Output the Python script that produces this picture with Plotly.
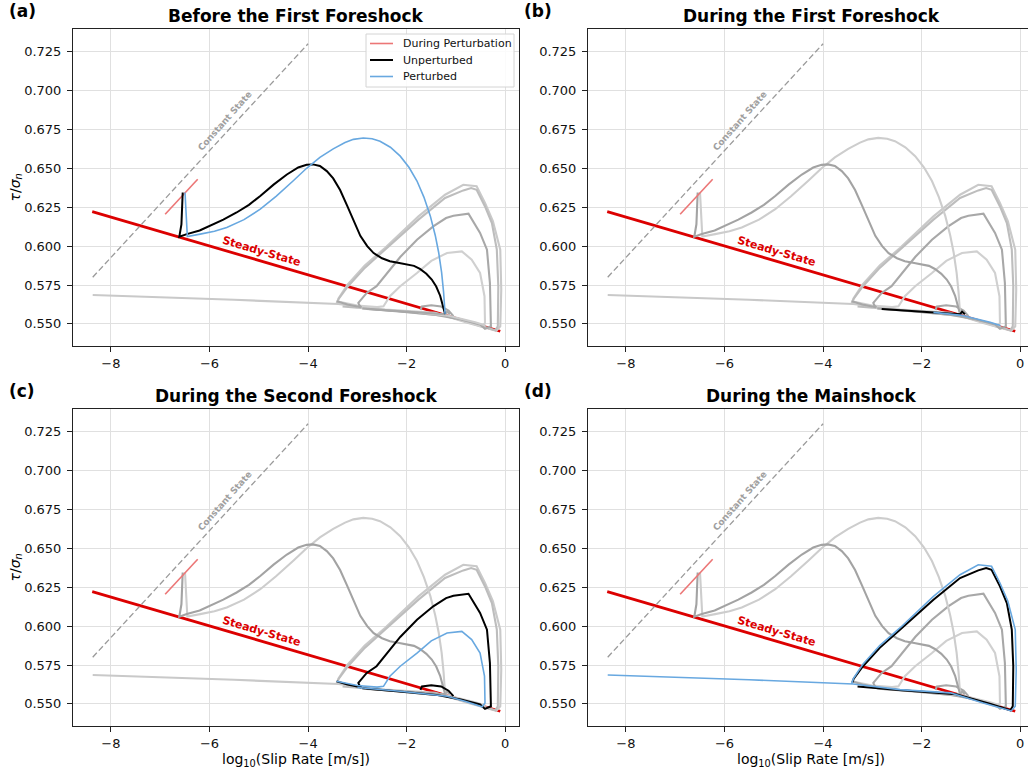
import plotly.graph_objects as go

W, H = 1028, 774

# ---------------- data ----------------
steady_x = [-8.38, -0.10]
steady_y = [0.6222, 0.5453]

const_x = [-8.37, -4.00]
const_y = [0.580, 0.730]

pert_x = [-6.90, -6.24]
pert_y = [0.6205, 0.6430]

# First foreshock, unperturbed (approach)
fs1_u_x = [-6.544, -6.55, -6.57, -6.613, -6.46, -6.20, -5.99, -5.72, -5.45, -5.20, -4.97, -4.70,
           -4.43, -4.20, -4.03, -3.90, -3.76, -3.62, -3.49, -3.35, -3.21, -3.07, -2.94, -2.80,
           -2.67, -2.50, -2.34, -2.15, -2.00, -1.85, -1.73, -1.60, -1.49, -1.40, -1.32, -1.26, -1.22]
fs1_u_y = [0.6344, 0.6250, 0.6140, 0.6060, 0.6077, 0.6100, 0.6130, 0.6170, 0.6216, 0.6265, 0.6322, 0.6395,
           0.6460, 0.6505, 0.6522, 0.6525, 0.6515, 0.6482, 0.6435, 0.6360, 0.6262, 0.6160, 0.6066, 0.6000,
           0.5955, 0.5922, 0.5903, 0.5891, 0.5884, 0.5873, 0.5853, 0.5822, 0.5785, 0.5740, 0.5681, 0.5620, 0.5564]

# First foreshock, perturbed (approach)
fs1_p_x = [-6.497, -6.48, -6.46, -6.45, -6.19, -5.90, -5.65, -5.30, -4.97, -4.65, -4.30, -4.03,
           -3.76, -3.49, -3.25, -3.08, -2.88, -2.70, -2.54, -2.33, -2.13, -1.95, -1.79, -1.65,
           -1.52, -1.42, -1.35, -1.29, -1.25, -1.22]
fs1_p_y = [0.6344, 0.6220, 0.6120, 0.6062, 0.6077, 0.6095, 0.6120, 0.6170, 0.6237, 0.6320, 0.6420, 0.6500,
           0.6570, 0.6625, 0.6665, 0.6686, 0.6695, 0.6690, 0.6674, 0.6635, 0.6578, 0.6505, 0.6418, 0.6315,
           0.6194, 0.6070, 0.5959, 0.5830, 0.5703, 0.5564]

# First foreshock, during the event
fs1_du_x = [-2.81, -2.40, -1.76, -1.22, -1.18, -1.12]
fs1_du_y = [0.5596, 0.5587, 0.5573, 0.5562, 0.5578, 0.5562]
fs1_dp_x = [-1.76, -1.19, -0.61, -0.40]
fs1_dp_y = [0.5574, 0.5555, 0.5511, 0.5490]

# Second foreshock, unperturbed (main loop, then small bump)
fs2_u_x = [-3.42, -3.20, -3.00, -2.92, -2.96, -2.98, -2.81, -2.61, -2.13, -1.79, -1.46, -1.20, -1.05,
           -0.745, -0.51, -0.37, -0.31, -0.29, -0.41, -0.51, -0.90, -1.40, -2.10, -2.90,
           None, -1.72, -1.69, -1.50, -1.30, -1.15, -1.05]
fs2_u_y = [0.5645, 0.5625, 0.5612, 0.5606, 0.5620, 0.5635, 0.5699, 0.5742, 0.5930, 0.6041, 0.6127, 0.6180, 0.6195,
           0.6208, 0.6085, 0.5977, 0.5763, 0.5485, 0.5468, 0.5496, 0.5528, 0.5558, 0.5578, 0.5600,
           None, 0.5590, 0.5612, 0.5620, 0.5612, 0.5585, 0.5550]

# Second foreshock, perturbed
fs2_p_x = [-3.42, -3.00, -2.60, -2.47, -2.34, -2.13, -1.79, -1.50, -1.18, -0.88, -0.68, -0.51,
           -0.42, -0.41, -0.47, -0.80, -1.18, -2.13, -3.00]
fs2_p_y = [0.5645, 0.5618, 0.5608, 0.5613, 0.5678, 0.5742, 0.5827, 0.5905, 0.5956, 0.5966, 0.5913, 0.5827,
           0.5678, 0.5506, 0.5481, 0.5515, 0.5549, 0.5581, 0.5605]

# Mainshock, unperturbed
ms_u_x = [-3.40, -3.38, -3.19, -2.85, -2.44, -2.10, -1.76, -1.22, -0.85, -0.69, -0.58, -0.41,
          -0.27, -0.17, -0.14, -0.15, -0.20, -0.60, -1.30, -2.40, -3.30]
ms_u_y = [0.5640, 0.5660, 0.5742, 0.5860, 0.5977, 0.6075, 0.6170, 0.6309, 0.6358, 0.6373, 0.6362, 0.6255,
          0.6148, 0.5977, 0.5742, 0.5485, 0.5459, 0.5500, 0.5562, 0.5588, 0.5612]

# Mainshock, perturbed (incl. post-seismic deceleration branch)
ms_p_x = [-3.42, -3.38, -3.20, -2.85, -2.44, -2.10, -1.76, -1.22, -0.85, -0.58, -0.41, -0.25,
          -0.10, -0.08, -0.10, -0.18, -0.75, -1.42, -2.44, -3.39, -5.50, -8.37]
ms_p_y = [0.5632, 0.5665, 0.5752, 0.5875, 0.5988, 0.6090, 0.6191, 0.6330, 0.6394, 0.6384, 0.6277, 0.6160,
          0.5977, 0.5721, 0.5485, 0.5455, 0.5506, 0.5571, 0.5592, 0.5628, 0.5655, 0.5686]

x_ticks = [-8, -6, -4, -2, 0]
x_tick_labels = ["\u22128", "\u22126", "\u22124", "\u22122", "0"]
y_ticks = [0.550, 0.575, 0.600, 0.625, 0.650, 0.675, 0.700, 0.725]
y_tick_labels = ["0.550", "0.575", "0.600", "0.625", "0.650", "0.675", "0.700", "0.725"]

panel_titles = ["Before the First Foreshock", "During the First Foreshock",
                "During the Second Foreshock", "During the Mainshock"]
panel_letters = ["(a)", "(b)", "(c)", "(d)"]
legend_names = ["During Perturbation", "Unperturbed", "Perturbed"]

# ---------------- styling ----------------
RED = "#dc0000"
PINK = "#ec7676"
BLUE = "#68a8e0"
FONT = "DejaVu Sans"

series = {
    "ms_p": (ms_p_x, ms_p_y, "#c9c9c9"),
    "ms_u": (ms_u_x, ms_u_y, "#bdbdbd"),
    "fs2_p": (fs2_p_x, fs2_p_y, "#d0d0d0"),
    "fs2_u": (fs2_u_x, fs2_u_y, "#a8a8a8"),
    "fs1_dp": (fs1_dp_x, fs1_dp_y, "#cccccc"),
    "fs1_du": (fs1_du_x, fs1_du_y, "#a8a8a8"),
    "fs1_p": (fs1_p_x, fs1_p_y, "#cdcdcd"),
    "fs1_u": (fs1_u_x, fs1_u_y, "#a3a3a3"),
}
highlights = [("fs1_u", "fs1_p"), ("fs1_du", "fs1_dp"), ("fs2_u", "fs2_p"), ("ms_u", "ms_p")]

# pixel layout of the four axes boxes: left, right, top, bottom
boxes = [
    (73, 519, 29, 346),
    (588, 1028, 29, 346),
    (73, 519, 409, 726),
    (588, 1028, 409, 726),
]
full_right = [519, 1034, 519, 1034]   # right panels are clipped by the image edge
x_ranges = [[-8.77, 0.28], [-8.77, 0.159], [-8.77, 0.28], [-8.77, 0.159]]
y_range = [0.5358, 0.7395]

fig = go.Figure()
layout_axes = {}
annotations = []
shapes = []

for i in range(4):
    n = "" if i == 0 else str(i + 1)
    xa, ya = "x" + n, "y" + n
    L, R, T, B = boxes[i]
    layout_axes["xaxis" + n] = dict(
        domain=[L / W, R / W], range=x_ranges[i], anchor=ya,
        tickvals=x_ticks, ticktext=x_tick_labels, showgrid=True, gridcolor="#e0e0e0", gridwidth=1,
        showline=True, linecolor="#222", linewidth=1, mirror=True, ticks="outside", ticklen=5,
        tickcolor="#222", tickfont=dict(size=13, family=FONT, color="#111"), zeroline=False,
        showticklabels=True,
    )
    layout_axes["yaxis" + n] = dict(
        domain=[1 - B / H, 1 - T / H], range=y_range, anchor=xa,
        tickvals=y_ticks, ticktext=y_tick_labels, showgrid=True, gridcolor="#e0e0e0", gridwidth=1,
        showline=True, linecolor="#222", linewidth=1, mirror=(i % 2 == 0), ticks="outside", ticklen=5,
        tickcolor="#222", tickfont=dict(size=13, family=FONT, color="#111"), zeroline=False,
        ticklabelstandoff=3,
    )

    # steady-state line and constant-state line
    fig.add_trace(go.Scatter(x=steady_x, y=steady_y, mode="lines", xaxis=xa, yaxis=ya,
                             line=dict(color=RED, width=2.8), showlegend=False, hoverinfo="skip"))
    fig.add_trace(go.Scatter(x=const_x, y=const_y, mode="lines", xaxis=xa, yaxis=ya,
                             line=dict(color="#9a9a9a", width=1.3, dash="6px,3px"), showlegend=False,
                             hoverinfo="skip"))
    # gray background trajectories
    hu, hp = highlights[i]
    for key, (sx, sy, col) in series.items():
        if key in (hu, hp):
            continue
        fig.add_trace(go.Scatter(x=sx, y=sy, mode="lines", xaxis=xa, yaxis=ya,
                                 line=dict(color=col, width=2.1), showlegend=False, hoverinfo="skip"))
    # perturbation segment
    fig.add_trace(go.Scatter(x=pert_x, y=pert_y, mode="lines", xaxis=xa, yaxis=ya, name=legend_names[0],
                             line=dict(color=PINK, width=1.6), showlegend=False, hoverinfo="skip"))
    # highlighted trajectories
    ux, uy, _ = series[hu]
    px_, py_, _ = series[hp]
    fig.add_trace(go.Scatter(x=ux, y=uy, mode="lines", xaxis=xa, yaxis=ya, name=legend_names[1],
                             line=dict(color="black", width=2), showlegend=False, hoverinfo="skip"))
    fig.add_trace(go.Scatter(x=px_, y=py_, mode="lines", xaxis=xa, yaxis=ya, name=legend_names[2],
                             line=dict(color=BLUE, width=1.6), showlegend=False, hoverinfo="skip"))

    # in-axes labels
    annotations.append(dict(x=-5.69, y=0.6803, xref=xa, yref=ya, text="<b>Constant State</b>",
                            showarrow=False, textangle=-48.5,
                            font=dict(size=9, family=FONT, color="#a0a0a0")))
    annotations.append(dict(x=-4.94, y=0.5966, xref=xa, yref=ya, text="<b>Steady-State</b>",
                            showarrow=False, textangle=16.4,
                            font=dict(size=11, family=FONT, color=RED)))

    # title and panel letter
    cx = (L + full_right[i]) / 2
    annotations.append(dict(x=cx / W, y=1 - (T - 13) / H, xref="paper", yref="paper",
                            text="<b>" + panel_titles[i] + "</b>", showarrow=False,
                            xanchor="center", yanchor="middle",
                            font=dict(size=17, family=FONT, color="black")))
    annotations.append(dict(x=(7 if i % 2 == 0 else 522) / W, y=1 - (T - 18) / H, xref="paper",
                            yref="paper", text="<b>" + panel_letters[i] + "</b>", showarrow=False,
                            xanchor="left", yanchor="middle",
                            font=dict(size=17, family=FONT, color="black")))
    if i % 2 == 0:
        annotations.append(dict(x=15 / W, y=1 - ((T + B) / 2) / H, xref="paper", yref="paper",
                                text="<i>\u03c4</i>/<i>\u03c3</i><sub><i>n</i></sub>", showarrow=False,
                                textangle=-90, xanchor="center", yanchor="middle",
                                font=dict(size=14, family=FONT, color="black")))
    if i >= 2:
        annotations.append(dict(x=cx / W, y=1 - 760 / H, xref="paper", yref="paper",
                                text="log<sub>10</sub>(Slip Rate [m/s])", showarrow=False,
                                xanchor="center", yanchor="middle",
                                font=dict(size=14, family=FONT, color="black")))

# ---------------- legend box (panel a, upper right) ----------------
leg_colors = [PINK, "black", BLUE]
leg_widths = [1.6, 2, 1.6]
leg_rows = [43.5, 60, 76.5]
shapes.append(dict(type="rect", xref="paper", yref="paper", x0=366 / W, x1=514 / W,
                   y0=1 - 87 / H, y1=1 - 34 / H, line=dict(color="#d4d4d4", width=1),
                   fillcolor="rgba(255,255,255,0.85)", layer="above"))
for name, col, lw, ry in zip(legend_names, leg_colors, leg_widths, leg_rows):
    shapes.append(dict(type="line", xref="paper", yref="paper", x0=370 / W, x1=393 / W,
                       y0=1 - ry / H, y1=1 - ry / H, line=dict(color=col, width=lw), layer="above"))
    annotations.append(dict(x=401 / W, y=1 - ry / H, xref="paper", yref="paper", text=name,
                            showarrow=False, xanchor="left", yanchor="middle",
                            font=dict(size=11, family=FONT, color="#111")))

fig.update_layout(
    width=W, height=H, autosize=False,
    margin=dict(l=0, r=0, t=0, b=0),
    plot_bgcolor="white", paper_bgcolor="white",
    font=dict(family=FONT, size=13, color="black"),
    annotations=annotations,
    shapes=shapes,
    showlegend=False,
    **layout_axes,
)

fig.write_html("out.html")
